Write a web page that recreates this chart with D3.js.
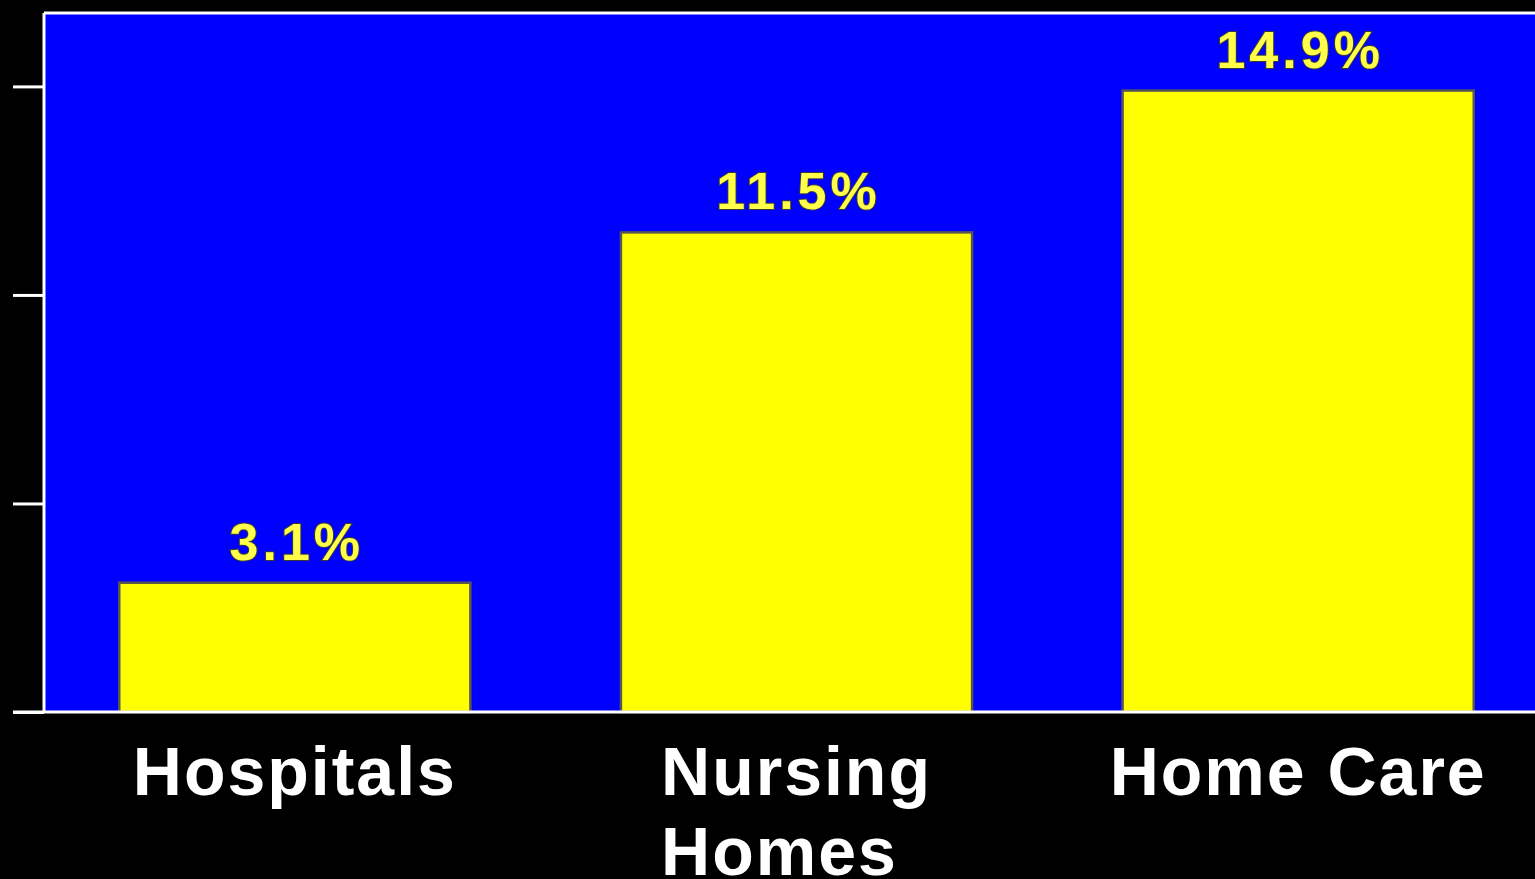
<!DOCTYPE html>
<html>
<head>
<meta charset="utf-8">
<script src="https://d3js.org/d3.v7.min.js"></script>
<style>
  html, body { margin: 0; padding: 0; background: #000; overflow: hidden; }
  svg { display: block; }
</style>
</head>
<body>
<script>
// Share of settings, by care setting
const categories = ["Hospitals", "Nursing Homes", "Home Care"];
const categoryLines = [["Hospitals"], ["Nursing", "Homes"], ["Home Care"]];
const values = [3.1, 11.5, 14.9];
const valueLabels = ["3.1%", "11.5%", "14.9%"];
const yTicks = [0, 5, 10, 15];

const width = 1535, height = 879;
const margin = { top: 13, left: 44, bottom: 167 };
const plotRight = 1549;
const yMax = 16.76;

const svg = d3.select("body").append("svg")
  .attr("width", width)
  .attr("height", height);

svg.append("rect")
  .attr("width", width).attr("height", height)
  .attr("fill", "#000");

const x = d3.scaleBand()
  .domain(categories)
  .range([margin.left, plotRight])
  .paddingInner(0.3)
  .paddingOuter(0.15);

const y = d3.scaleLinear()
  .domain([0, yMax])
  .range([height - margin.bottom, margin.top]);

// plot panel
svg.append("rect")
  .attr("x", margin.left)
  .attr("y", y(yMax))
  .attr("width", plotRight - margin.left)
  .attr("height", y(0) - y(yMax))
  .attr("fill", "#0000fe");

// bars
svg.append("g").selectAll("rect")
  .data(values)
  .join("rect")
  .attr("x", (d, i) => x(categories[i]))
  .attr("y", d => y(d))
  .attr("width", x.bandwidth())
  .attr("height", d => y(0) - y(d))
  .attr("fill", "#ffff00")
  .attr("stroke", "#555555")
  .attr("stroke-width", 2.5);

// value labels
svg.append("g").selectAll("text")
  .data(values)
  .join("text")
  .attr("x", (d, i) => x(categories[i]) + x.bandwidth() / 2 + 2)
  .attr("y", d => y(d) - 23)
  .attr("text-anchor", "middle")
  .attr("font-family", "'Liberation Sans', Arial, sans-serif")
  .attr("font-weight", "bold")
  .attr("font-size", 52)
  .attr("letter-spacing", 4)
  .attr("fill", "#ffff4a")
  .attr("stroke", "#3a3a3a")
  .attr("stroke-width", 2)
  .attr("paint-order", "stroke")
  .text((d, i) => valueLabels[i]);

// top frame line
svg.append("line")
  .attr("x1", margin.left).attr("x2", plotRight)
  .attr("y1", y(yMax)).attr("y2", y(yMax))
  .attr("stroke", "#fff").attr("stroke-width", 3);

// left axis
const yAxis = svg.append("g")
  .attr("transform", `translate(${margin.left},0)`)
  .call(d3.axisLeft(y).tickValues(yTicks).tickSize(31).tickFormat(""));
yAxis.select(".domain").remove();
yAxis.selectAll(".tick line").attr("stroke", "#fff").attr("stroke-width", 3);

svg.append("line")
  .attr("x1", margin.left).attr("x2", margin.left)
  .attr("y1", y(yMax)).attr("y2", y(0))
  .attr("stroke", "#fff").attr("stroke-width", 3);

// baseline
svg.append("line")
  .attr("x1", margin.left - 31).attr("x2", plotRight)
  .attr("y1", y(0)).attr("y2", y(0))
  .attr("stroke", "#fff").attr("stroke-width", 3);

// category labels: each block centred under its bar, lines left-aligned
const cat = svg.append("g").selectAll("text")
  .data(categories)
  .join("text")
  .attr("y", 795)
  .attr("font-family", "'Liberation Sans', Arial, sans-serif")
  .attr("font-weight", "bold")
  .attr("font-size", 68)
  .attr("letter-spacing", 2)
  .attr("fill", "#fff");

cat.each(function(d, i) {
  const t = d3.select(this);
  const spans = categoryLines[i].map((line, k) =>
    t.append("tspan")
      .attr("dy", k === 0 ? 0 : 80)
      .text(line));
  const widest = d3.max(spans, s => s.node().getComputedTextLength());
  const left = x(d) + x.bandwidth() / 2 - widest / 2;
  spans.forEach(s => s.attr("x", left));
});
</script>
</body>
</html>
